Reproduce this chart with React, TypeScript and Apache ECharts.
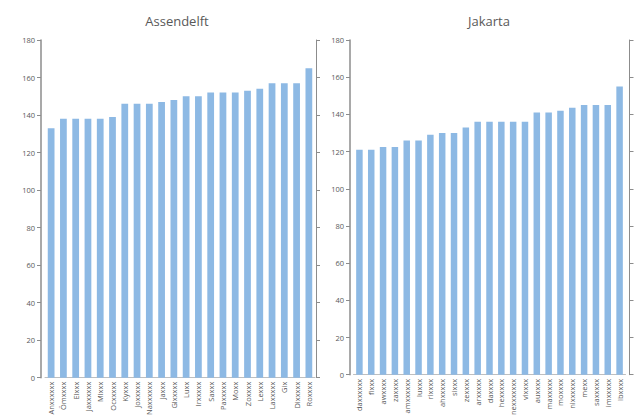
import React, { useEffect, useRef } from "react";
import * as echarts from "echarts";

const leftTitle = "Assendelft";
const rightTitle = "Jakarta";

const leftCategories = [
  "Anxxxxxx", "Ömxxxx", "Elxxx", "Jaxxxxxx", "Mlxxx", "Ocxxxxx", "Kyxxx", "Joxxxxx",
  "Naxxxxxx", "Jaxxx", "Glxxxxx", "Luxx", "Irxxxxx", "Saxxx", "Paxxxxx", "Moxx",
  "Zoxxxx", "Lexxx", "Laxxxxx", "Gix", "Dixxxxx", "Roxxxx",
];
const leftValues = [133, 138, 138, 138, 138, 139, 146, 146, 146, 147, 148, 150, 150, 152, 152, 152, 153, 154, 157, 157, 157, 165];

const rightCategories = [
  "daxxxxxx", "fixxx", "awxxxx", "zaxxxx", "amxxxxxx", "luxxx", "rixxxx", "ahxxxxx",
  "sixxx", "zexxxx", "arxxxxx", "daxxxx", "hexxxxx", "nexxxxxxx", "vixxxx", "auxxxx",
  "maxxxxx", "moxxxx", "nixxxxxx", "mexx", "saxxxxx", "imxxxxx", "ibxxxx",
];
const rightValues = [121, 121, 122.5, 122.5, 126, 126, 129, 130, 130, 133, 136, 136, 136, 136, 136, 141, 141, 142, 143.5, 145, 145, 145, 155];

const yTicks = { min: 0, max: 180, interval: 20 };

const BAR = "#8db9e4";
const AXIS = "#8c8c8c";
const TEXT = "#595959";
const FONT = "'Open Sans', 'Liberation Sans', sans-serif";

export default function App() {
  const ref = useRef<HTMLDivElement>(null);
  useEffect(() => {
    if (!ref.current) return;
    const chart = echarts.init(ref.current, undefined, { renderer: "svg" });
    const xAxisBase = (gridIndex: number, data: string[]) => ({
      type: "category" as const,
      gridIndex,
      data,
      axisLine: { show: true, lineStyle: { color: "#bfbfbf", width: 1 } },
      axisTick: { show: false },
      axisLabel: { rotate: 90, fontSize: 7.5, color: TEXT, fontFamily: FONT, margin: 4, interval: 0 },
    });
    const yLeft = (gridIndex: number, offset: number) => ({
      type: "value" as const,
      gridIndex,
      position: "left" as const,
      offset,
      ...yTicks,
      splitLine: { show: false },
      axisLine: { show: true, lineStyle: { color: AXIS, width: 1.5 } },
      axisTick: { show: true, length: 4, lineStyle: { color: AXIS } },
      axisLabel: { fontSize: 7.5, color: TEXT, fontFamily: FONT, margin: 6 },
    });
    const yRight = (gridIndex: number, offset: number) => ({
      type: "value" as const,
      gridIndex,
      position: "right" as const,
      offset,
      ...yTicks,
      splitLine: { show: false },
      axisLine: { show: true, lineStyle: { color: AXIS, width: 1 } },
      axisTick: { show: true, length: 4, lineStyle: { color: AXIS } },
      axisLabel: { show: false },
    });
    chart.setOption({
      animation: false,
      backgroundColor: "#ffffff",
      title: [
        { text: leftTitle, left: 172, top: 9, textAlign: "center", textStyle: { fontSize: 13, fontWeight: "normal", color: TEXT, fontFamily: FONT } },
        { text: rightTitle, left: 484, top: 9, textAlign: "center", textStyle: { fontSize: 13, fontWeight: "normal", color: TEXT, fontFamily: FONT } },
      ],
      grid: [
        { left: 45, right: 634 - 315, top: 40, bottom: 36 },
        { left: 353.5, right: 634 - 625.5, top: 40, bottom: 36 },
      ],
      xAxis: [xAxisBase(0, leftCategories), xAxisBase(1, rightCategories)],
      yAxis: [yLeft(0, 4), yRight(0, 1), yLeft(1, 3.5), yRight(1, 4)],
      series: [
        { type: "bar", xAxisIndex: 0, yAxisIndex: 0, data: leftValues, itemStyle: { color: BAR }, barCategoryGap: "45%" },
        { type: "bar", xAxisIndex: 1, yAxisIndex: 2, data: rightValues, itemStyle: { color: BAR }, barCategoryGap: "45%" },
      ],
    });
    return () => chart.dispose();
  }, []);
  return <div ref={ref} style={{ position: "fixed", left: 0, top: 0, width: 634, height: 418 }} />;
}
